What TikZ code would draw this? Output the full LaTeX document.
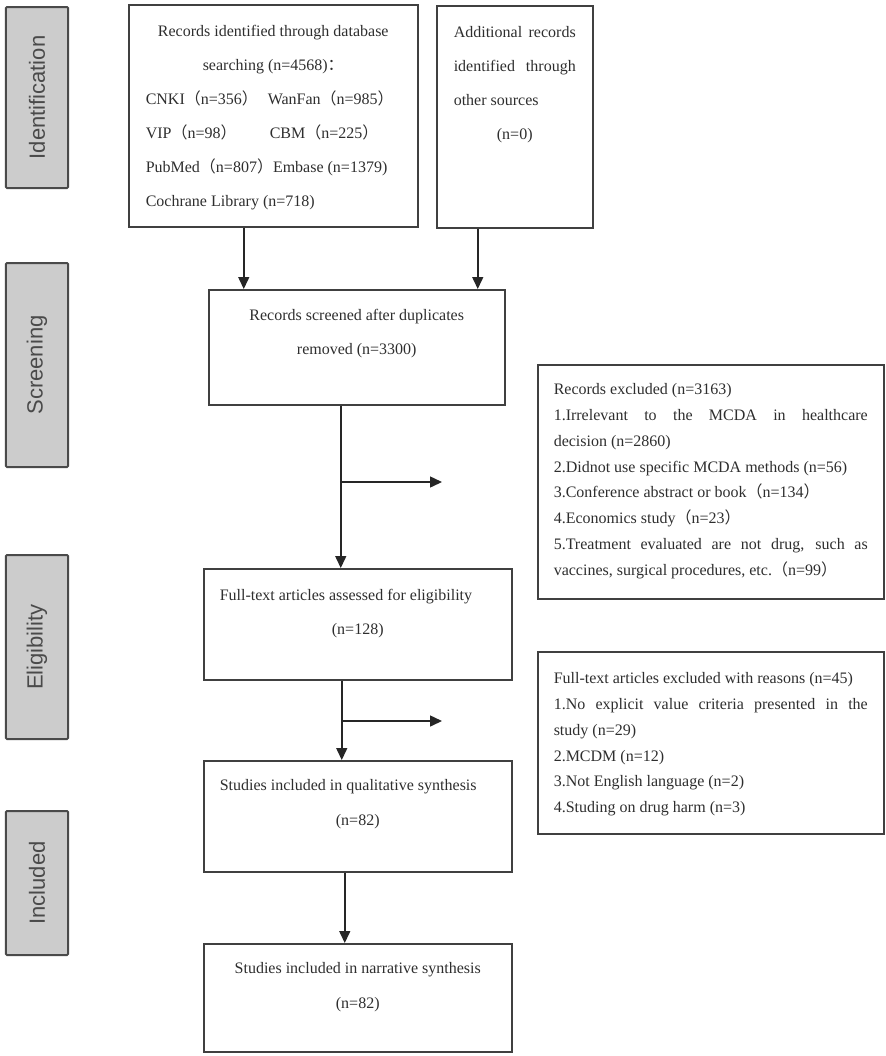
\documentclass[tikz,border=0pt]{standalone}
\usepackage{fontspec}
\setmainfont{Liberation Serif}
\newfontfamily\cjk{Noto Sans CJK SC}
\newfontfamily\sidefont{Liberation Sans}
\usetikzlibrary{arrows.meta}
\definecolor{sidefill}{HTML}{CCCCCC}
\definecolor{sideline}{HTML}{4A4A4A}
\definecolor{boxline}{HTML}{404040}
\definecolor{inkgray}{HTML}{2E2E2E}
\newcommand{\zw}[1]{{\cjk #1}}
\newcommand{\topgap}[1]{\rule{0pt}{#1}}
\newcommand{\boxtext}[3]{\parbox[c][#2][t]{#1}{\parskip=0pt\hyphenpenalty=10000\relax #3}}
\tikzset{
  stage/.style={draw=sideline, line width=2bp, fill=sidefill, rounded corners=1bp, rotate=90,
    minimum height=62bp, inner sep=0pt, text=sideline, font=\sidefont\fontsize{22bp}{22bp}\selectfont},
  flowbox/.style={draw=boxline, line width=1.5bp, inner xsep=17bp, inner ysep=0pt, anchor=north west,
    text=inkgray, font=\fontsize{16bp}{34bp}\selectfont},
  notebox/.style={flowbox, inner xsep=16bp, font=\fontsize{16bp}{25.8bp}\selectfont},
  arr/.style={draw=black!85, line width=1.5bp, -{Triangle[length=12bp,width=11bp]}}
}
\begin{document}
\begin{tikzpicture}[x=1bp, y=-1bp]
		%%%%% START %%%%%
		\useasboundingbox (0,0) rectangle (886,1056);
		
		% stage labels
		\node[stage, minimum width=181bp] (stageid) at (37,97.5) {Identification};
		\node[stage, minimum width=204bp] (stagescr) at (37,365) {Screening};
		\node[stage, minimum width=184bp] (stageelig) at (37,647) {Eligibility};
		\node[stage, minimum width=144bp] (stageincl) at (37,883) {Included};
		
		% identification
		\node[flowbox] (db) at (128,4) {\boxtext{255bp}{222bp}{%
			{\centering\topgap{32bp}Records identified through database\\
			searching (n=4568)\zw{：}\par}
			\makebox[122bp][l]{CNKI\zw{（}n=356\zw{）}}WanFan\zw{（}n=985\zw{）}\\
			\makebox[124bp][l]{VIP\zw{（}n=98\zw{）}}CBM\zw{（}n=225\zw{）}\\
			PubMed\zw{（}n=807\zw{）}Embase (n=1379)\\
			Cochrane Library (n=718)}};
		\node[flowbox] (other) at (436,5) {\boxtext{122bp}{222bp}{%
			\topgap{32bp}Additional records\linebreak identified through\linebreak other sources\par
			{\centering (n=0)\par}}};
		
		% screening
		\node[flowbox] (screen) at (208,289) {\boxtext{262bp}{115bp}{%
			\centering\topgap{31bp}Records screened after duplicates\\ removed (n=3300)}};
		\node[notebox] (excl) at (537,364) {\boxtext{314bp}{234bp}{%
			\topgap{30bp}Records excluded (n=3163)\par
			1.Irrelevant to the MCDA in healthcare\linebreak decision (n=2860)\par
			2.Didnot use specific MCDA methods (n=56)\par
			3.Conference abstract or book\zw{（}n=134\zw{）}\par
			4.Economics study\zw{（}n=23\zw{）}\par
			5.Treatment evaluated are not drug, such as\linebreak vaccines, surgical procedures, etc.\zw{（}n=99\zw{）}}};
		
		% eligibility
		\node[flowbox, inner xsep=16bp] (elig) at (203,568) {\boxtext{276bp}{111bp}{%
			\topgap{32bp}Full-text articles assessed for eligibility\par
			{\centering (n=128)\par}}};
		\node[notebox] (exclft) at (537,651) {\boxtext{314bp}{182bp}{%
			\topgap{32bp}Full-text articles excluded with reasons (n=45)\par
			1.No explicit value criteria presented in the\linebreak study (n=29)\par
			2.MCDM (n=12)\par
			3.Not English language (n=2)\par
			4.Studing on drug harm (n=3)}};
		
		% included
		\node[flowbox, inner xsep=16bp, font=\fontsize{16bp}{35bp}\selectfont] (qual) at (203,760) {\boxtext{276bp}{111bp}{%
			\topgap{30bp}Studies included in qualitative synthesis\par
			{\centering (n=82)\par}}};
		\node[flowbox, inner xsep=16bp, font=\fontsize{16bp}{35bp}\selectfont] (narr) at (203,943) {\boxtext{276bp}{108bp}{%
			\centering\topgap{30bp}Studies included in narrative synthesis\\ (n=82)}};
		
		% connectors
		\coordinate (dbout) at ([xshift=-29.5bp]db.south);
		\coordinate (otherout) at ([xshift=-37bp]other.south);
		\draw[arr] (dbout) -- (dbout |- screen.north);
		\draw[arr] (otherout) -- (otherout |- screen.north);
		
		\coordinate (screenout) at ([xshift=-16bp]screen.south);
		\coordinate (tip1) at (442,482);
		\draw[arr] (screenout) -- (screenout |- elig.north);
		\draw[arr] (screenout |- tip1) -- (tip1);
		
		\coordinate (eligout) at ([xshift=-16bp]elig.south);
		\coordinate (tip2) at (442,721);
		\draw[arr] (eligout) -- (eligout |- qual.north);
		\draw[arr] (eligout |- tip2) -- (tip2);
		
		\coordinate (qualout) at ([xshift=-13bp]qual.south);
		\draw[arr] (qualout) -- (qualout |- narr.north);
		
		%%%%% END %%%%%
	\end{tikzpicture}
\end{document}
